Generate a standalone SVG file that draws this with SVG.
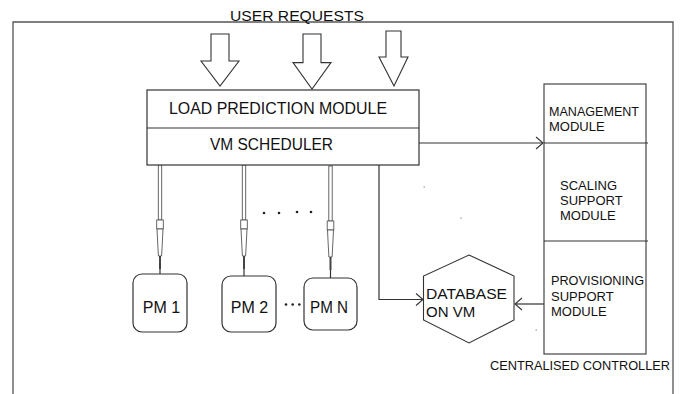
<svg xmlns="http://www.w3.org/2000/svg" xmlns:xlink="http://www.w3.org/1999/xlink" width="682" height="394" viewBox="0 0 682 394">
  <style>
    .t { font-family: "Liberation Sans", Arial, sans-serif; fill: #111; }
    .box { fill: #fff; stroke: #333; stroke-width: 1.2; }
    .ln { fill: none; stroke: #333; stroke-width: 1.2; }
    .big { fill: #fff; stroke: #333; stroke-width: 1.1; }
    .pen { fill: #fff; stroke: #555; stroke-width: 0.9; }
    .dot { fill: #222; }
    .speck { fill: #888; }
  </style>
  <defs>
    <marker id="chev" markerUnits="userSpaceOnUse" markerWidth="10" markerHeight="14" refX="8" refY="7" orient="auto">
      <path d="M1,1 L8,7 L1,13" fill="none" stroke="#333" stroke-width="1.1"/>
    </marker>
    <!-- pen-shaped link: cx = 0, top at y = 0 -->
    <g id="penlink">
      <rect class="pen" x="-1.7" y="0" width="3.4" height="55"/>
      <rect class="pen" x="-3.3" y="55" width="6.6" height="9"/>
      <path class="pen" d="M-3,64 L-2.3,78 L-1.6,91 L1.6,91 L2.3,78 L3,64 Z"/>
      <line x1="0" y1="91" x2="0" y2="104" stroke="#444" stroke-width="2"/>
    </g>
    <!-- hollow down arrow -->
    <path id="downarrow" d="M-9,0 H9 V27 H19 L0,52 L-19,27 H-9 Z"/>
  </defs>

  <!-- frame -->
  <path d="M13,394 V22 H673 V394" fill="none" stroke="#555" stroke-width="1.3"/>
  <text class="t" x="297" y="21" font-size="15.5" text-anchor="middle" textLength="134" lengthAdjust="spacingAndGlyphs">USER REQUESTS</text>

  <!-- user request arrows -->
  <g id="requests" fill="#fff" stroke="#333" stroke-width="1.1">
    <use xlink:href="#downarrow" transform="translate(220,34) scale(1,1.0)"/>
    <use xlink:href="#downarrow" transform="translate(312,34) scale(1,1.06)"/>
    <path d="M386,31 H401 V57 H408 L394,86 L379,57 H386 Z"/>
  </g>

  <!-- connectors -->
  <g id="connectors">
    <use xlink:href="#penlink" transform="translate(160,165)"/>
    <line class="ln" x1="160" y1="269" x2="160" y2="274" stroke-width="1"/>
    <use xlink:href="#penlink" transform="translate(244,165)"/>
    <line class="ln" x1="244" y1="269" x2="244" y2="276" stroke-width="1"/>
    <use xlink:href="#penlink" transform="translate(330.5,166)"/>
    <line class="ln" x1="330.5" y1="270" x2="330.5" y2="278" stroke-width="1"/>
    <line class="ln" x1="419" y1="143" x2="543" y2="143" marker-end="url(#chev)"/>
    <polyline class="ln" points="379,165 379,299.5 423,299.5" marker-end="url(#chev)"/>
    <line class="ln" x1="544" y1="304" x2="515" y2="304" marker-end="url(#chev)"/>
  </g>

  <!-- load prediction + scheduler -->
  <g id="loadpredictor">
    <rect class="box" x="147" y="90" width="272" height="75"/>
    <line class="ln" x1="147" y1="128" x2="419" y2="128"/>
    <text class="t" x="169" y="114" font-size="16" textLength="218" lengthAdjust="spacingAndGlyphs">LOAD PREDICTION MODULE</text>
  </g>
  <g id="vmscheduler">
    <text class="t" x="210" y="150" font-size="16" textLength="123" lengthAdjust="spacingAndGlyphs">VM SCHEDULER</text>
  </g>

  <!-- physical machines -->
  <g id="pm1">
    <rect class="box" x="133" y="274" width="54" height="58" rx="9"/>
    <text class="t" x="161.5" y="313" font-size="16" text-anchor="middle">PM 1</text>
  </g>
  <g id="pm2">
    <rect class="box" x="222" y="276" width="54" height="56" rx="9"/>
    <text class="t" x="249.5" y="313" font-size="16" text-anchor="middle">PM 2</text>
  </g>
  <g id="pmn">
    <rect class="box" x="304" y="278" width="53" height="52" rx="9"/>
    <text class="t" x="329" y="313" font-size="16" text-anchor="middle" textLength="38" lengthAdjust="spacingAndGlyphs">PM N</text>
  </g>

  <!-- ellipsis dots -->
  <g id="ellipses">
    <circle class="dot" cx="264" cy="213" r="1.3"/>
    <circle class="dot" cx="279" cy="213" r="1.3"/>
    <circle class="dot" cx="297" cy="212" r="1.3"/>
    <circle class="dot" cx="311" cy="212" r="1.3"/>
    <circle class="dot" cx="286" cy="304.5" r="1.3"/>
    <circle class="dot" cx="292.7" cy="304.5" r="1.3"/>
    <circle class="dot" cx="299.3" cy="304.5" r="1.3"/>
  </g>

  <!-- database hexagon -->
  <g id="database">
    <polygon class="big" points="469,255 514,276 514,320 469,343 423.5,320 423.5,276"/>
    <text class="t" x="426" y="298.5" font-size="15" textLength="81" lengthAdjust="spacingAndGlyphs">DATABASE</text>
    <text class="t" x="426" y="317" font-size="15">ON VM</text>
  </g>

  <!-- centralised controller -->
  <g id="controller">
    <rect class="big" x="544" y="84" width="102" height="270"/>
    <line class="ln" x1="544" y1="143" x2="648" y2="143"/>
    <line class="ln" x1="544" y1="241" x2="648" y2="241"/>
    <text class="t" x="490" y="369.5" font-size="12.8" textLength="180" lengthAdjust="spacingAndGlyphs">CENTRALISED CONTROLLER</text>
  </g>
  <g id="management">
    <text class="t" x="549" y="116" font-size="13" textLength="90" lengthAdjust="spacingAndGlyphs">MANAGEMENT</text>
    <text class="t" x="549" y="131" font-size="13">MODULE</text>
  </g>
  <g id="scaling">
    <text class="t" x="560" y="189.5" font-size="13">SCALING</text>
    <text class="t" x="560" y="204.5" font-size="13">SUPPORT</text>
    <text class="t" x="560" y="220" font-size="13">MODULE</text>
  </g>
  <g id="provisioning">
    <text class="t" x="551" y="285" font-size="13" textLength="93" lengthAdjust="spacingAndGlyphs">PROVISIONING</text>
    <text class="t" x="551" y="300.5" font-size="13">SUPPORT</text>
    <text class="t" x="551" y="316" font-size="13">MODULE</text>
  </g>

  <!-- stray specks -->
  <rect class="speck" x="423.5" y="186.5" width="1.5" height="1"/>
  <rect class="speck" x="460.5" y="217.5" width="1.2" height="1.2"/>
  <rect class="speck" x="535.5" y="329.5" width="1.5" height="1"/>
</svg>
